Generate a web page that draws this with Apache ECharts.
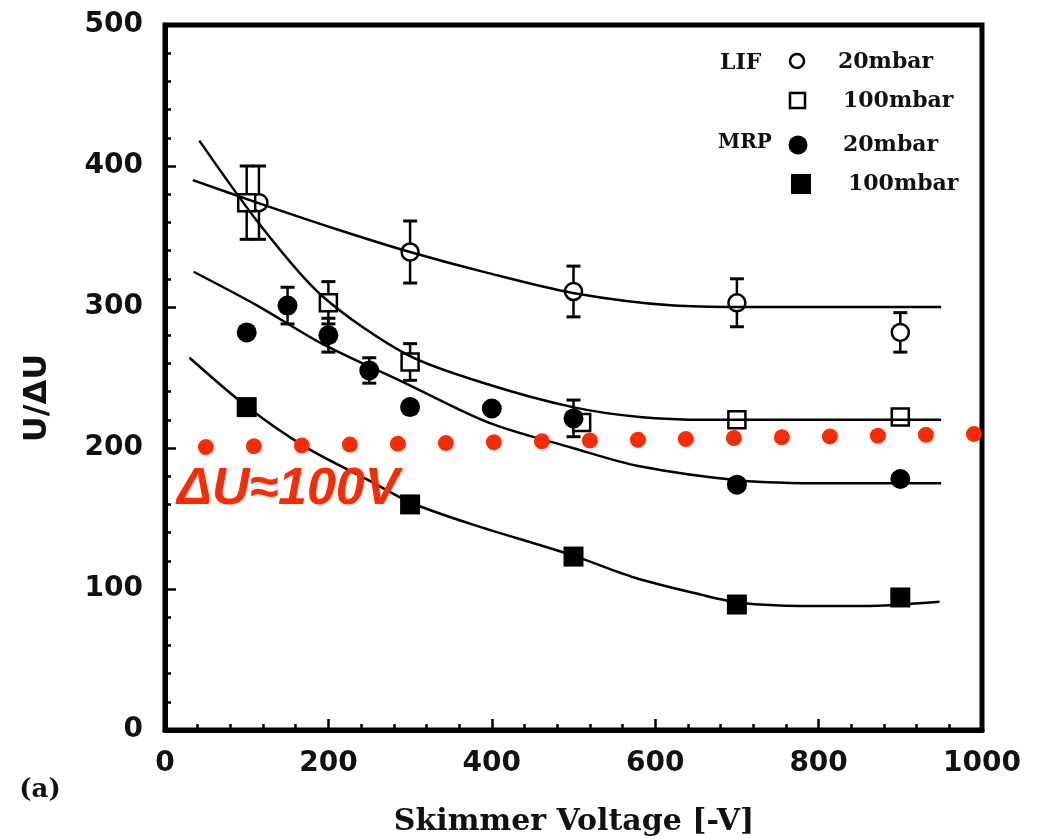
<!DOCTYPE html>
<html><head><meta charset="utf-8">
<script src="https://cdn.jsdelivr.net/npm/echarts@6/dist/echarts.min.js"></script>
<style>html,body{margin:0;padding:0;background:#fff}#c{width:1040px;height:839px}</style>
</head><body><div id="c"></div>
<script>
// ---- measured points ----
// LIF 20 mbar (open circles)
const lif20X   = [115, 300, 500, 700, 900];
const lif20Y   = [374, 339, 311, 303, 282];
const lif20Err = [26, 22, 18, 17, 14];
// LIF 100 mbar (open squares)
const lif100X   = [100, 200, 300, 510, 700, 900];
const lif100Y   = [374, 303, 261, 218, 220, 222];
const lif100Err = [26, 15, 13, 0, 0, 0];
// MRP 20 mbar (filled circles)
const mrp20X   = [100, 150, 200, 250, 300, 400, 500, 700, 900];
const mrp20Y   = [282, 301, 280, 255, 229, 228, 221, 174, 178];
const mrp20Err = [0, 13, 12, 9, 0, 0, 13, 0, 0];
// MRP 100 mbar (filled squares)
const mrp100X = [100, 300, 500, 700, 900];
const mrp100Y = [229, 160, 123, 89, 94];

// ---- fitted curves ----
const lif20CurveX  = [34, 118, 211, 300, 396, 499, 623, 704, 813, 950];
const lif20CurveY  = [390, 373, 355, 339, 324, 310, 301, 300, 300, 300];
const lif100CurveX = [42, 118, 192, 297, 396, 499, 581, 663, 813, 950];
const lif100CurveY = [418, 357, 308, 266, 245, 229, 222, 220, 220, 220];
const mrp20CurveX  = [35, 113, 192, 294, 396, 499, 581, 704, 813, 950];
const mrp20CurveY  = [325, 301, 274, 246, 218, 200, 187, 177, 175, 175];
const mrp100CurveX = [30, 101, 171, 253, 302, 375, 498, 575, 656, 706, 779, 855, 948];
const mrp100CurveY = [264, 229, 201, 176, 161, 146, 124, 108, 96, 90, 88, 88, 91];

// ---- red reference line (ΔU≈100V) ----
const refLineX = [50, 991];
const refLineY = [200.7, 209.9];

const zip = (a, b) => a.map((v, i) => [v, b[i]]);

function errSeries(xs, ys, es) {
  return {
    type: 'custom', z: 1, silent: true,
    data: xs.map((x, i) => [x, ys[i], es[i]]).filter(d => d[2] > 0),
    encode: { x: 0, y: 1 },
    renderItem(params, api) {
      const x = api.value(0), y = api.value(1), e = api.value(2);
      const t = api.coord([x, y + e]), b = api.coord([x, y - e]);
      const w = 7;
      const st = { stroke: '#000', lineWidth: 2.5 };
      return { type: 'group', children: [
        { type: 'line', shape: { x1: t[0], y1: t[1], x2: b[0], y2: b[1] }, style: st },
        { type: 'line', shape: { x1: t[0] - w, y1: t[1], x2: t[0] + w, y2: t[1] }, style: { stroke: '#000', lineWidth: 3 } },
        { type: 'line', shape: { x1: b[0] - w, y1: b[1], x2: b[0] + w, y2: b[1] }, style: { stroke: '#000', lineWidth: 3 } }
      ]};
    }
  };
}
function curve(xs, ys) {
  return { type: 'line', z: 3, data: zip(xs, ys), symbol: 'none', smooth: 0.3, silent: true,
    lineStyle: { color: '#000', width: 2.5 } };
}

const chart = echarts.init(document.getElementById('c'), null, { renderer: 'canvas' });
const tickFont = { fontFamily: 'DejaVu Sans', fontWeight: 'bold', fontSize: 28, color: '#111' };
const serif = 'DejaVu Serif';

chart.setOption({
  animation: false,
  backgroundColor: '#fff',
  grid: { left: 165, right: 58, top: 25, bottom: 109, show: true, borderColor: '#000', borderWidth: 5 },
  xAxis: {
    type: 'value', min: 0, max: 1000, interval: 200,
    axisLine: { lineStyle: { color: '#000', width: 5 } },
    axisTick: { inside: true, length: 11, lineStyle: { color: '#000', width: 2.5 } },
    minorTick: { show: true, splitNumber: 5, length: 6, lineStyle: { color: '#000', width: 2.5 } },
    splitLine: { show: false },
    axisLabel: Object.assign({ margin: 20, formatter: v => String(v) }, tickFont)
  },
  yAxis: {
    type: 'value', min: 0, max: 500, interval: 100,
    axisLine: { lineStyle: { color: '#000', width: 5 } },
    axisTick: { inside: true, length: 11, lineStyle: { color: '#000', width: 2.5 } },
    minorTick: { show: true, splitNumber: 5, length: 6, lineStyle: { color: '#000', width: 2.5 } },
    splitLine: { show: false },
    axisLabel: Object.assign({ margin: 22, formatter: v => String(v) }, tickFont)
  },
  series: [
    errSeries(lif20X, lif20Y, lif20Err),
    errSeries(lif100X, lif100Y, lif100Err),
    errSeries(mrp20X, mrp20Y, mrp20Err),
    { type: 'scatter', z: 2, data: zip(lif20X, lif20Y), symbol: 'circle', symbolSize: 17,
      itemStyle: { color: '#fff', borderColor: '#000', borderWidth: 2.5, opacity: 1 } },
    { type: 'scatter', z: 2, data: zip(lif100X, lif100Y), symbol: 'rect', symbolSize: 17,
      itemStyle: { color: '#fff', borderColor: '#000', borderWidth: 2.5, opacity: 1 } },
    { type: 'scatter', z: 2, data: zip(mrp20X, mrp20Y), symbol: 'circle', symbolSize: 20,
      itemStyle: { color: '#000', opacity: 1 } },
    { type: 'scatter', z: 2, data: zip(mrp100X, mrp100Y), symbol: 'rect', symbolSize: 20,
      itemStyle: { color: '#000', opacity: 1 } },
    curve(lif20CurveX, lif20CurveY),
    curve(lif100CurveX, lif100CurveY),
    curve(mrp20CurveX, mrp20CurveY),
    curve(mrp100CurveX, mrp100CurveY),
    { type: 'line', z: 5, data: zip(refLineX, refLineY), symbol: 'none', clip: false, silent: true,
      lineStyle: { color: '#ff2a00', width: 16, type: [0.01, 48], cap: 'round' } }
  ],
  graphic: [
    // legend
    { type: 'text', left: 720, top: 52, style: { text: 'LIF', font: 'bold 22px "' + serif + '"', fill: '#111' } },
    { type: 'circle', shape: { cx: 797, cy: 61, r: 7 }, style: { fill: '#fff', stroke: '#000', lineWidth: 2.5 } },
    { type: 'text', left: 838, top: 51, style: { text: '20mbar', font: 'bold 22px "' + serif + '"', fill: '#111' } },
    { type: 'rect', shape: { x: 790, y: 93, width: 15, height: 15 }, style: { fill: '#fff', stroke: '#000', lineWidth: 2.5 } },
    { type: 'text', left: 843, top: 90, style: { text: '100mbar', font: 'bold 22px "' + serif + '"', fill: '#111' } },
    { type: 'text', left: 718, top: 133, style: { text: 'MRP', font: 'bold 20px "' + serif + '"', fill: '#111' } },
    { type: 'circle', shape: { cx: 798, cy: 145, r: 9.5 }, style: { fill: '#000' } },
    { type: 'text', left: 843, top: 134, style: { text: '20mbar', font: 'bold 22px "' + serif + '"', fill: '#111' } },
    { type: 'rect', shape: { x: 791, y: 174, width: 20, height: 20 }, style: { fill: '#000' } },
    { type: 'text', left: 848, top: 173, style: { text: '100mbar', font: 'bold 22px "' + serif + '"', fill: '#111' } },
    // axis titles
    { type: 'text', x: 574, y: 822, style: { text: 'Skimmer Voltage [-V]', font: 'bold 30px "' + serif + '"', fill: '#111', textAlign: 'center', textVerticalAlign: 'middle' } },
    { type: 'text', x: 38, y: 398, rotation: Math.PI / 2, style: { text: 'U/ΔU', font: 'bold 32px "DejaVu Sans"', fill: '#111', textAlign: 'center', textVerticalAlign: 'middle' } },
    { type: 'text', x: 40, y: 790, style: { text: '(a)', font: 'bold 26px "' + serif + '"', fill: '#111', textAlign: 'center', textVerticalAlign: 'middle' } },
    // annotation
    { type: 'text', x: 177, y: 490, z: 10, style: { text: 'ΔU≈100V', font: 'italic bold 52px "Liberation Sans"', fill: '#ff2a00', textAlign: 'left', textVerticalAlign: 'middle' } }
  ]
});
</script>
</body></html>
